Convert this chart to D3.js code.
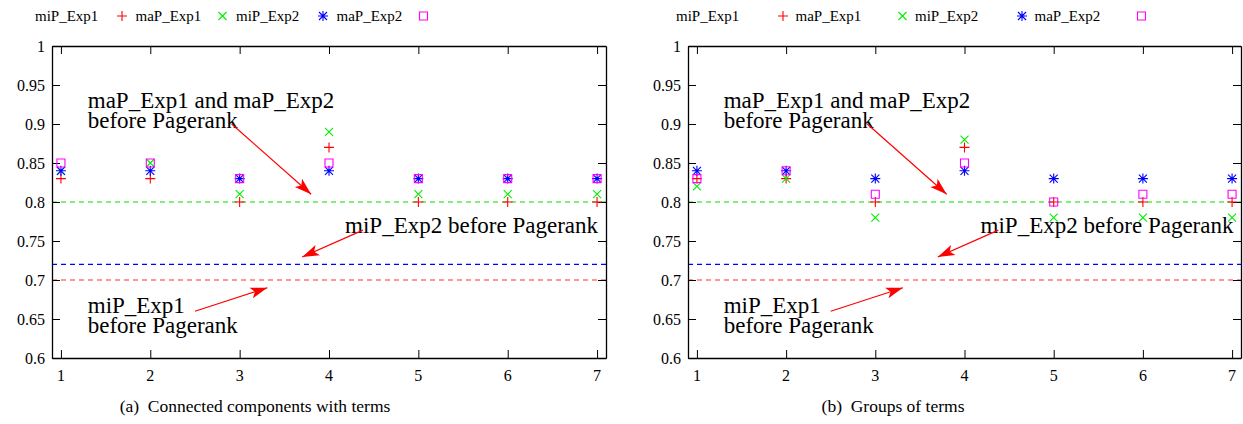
<!DOCTYPE html>
<html>
<head>
<meta charset="utf-8">
<script src="https://cdn.jsdelivr.net/npm/d3@7"></script>
</head>
<body style="margin:0">
<svg width="1243" height="424" font-family="Liberation Serif"></svg>
<script>
// data
const xValues = [1, 2, 3, 4, 5, 6, 7];
const yTicks = [0.6, 0.65, 0.7, 0.75, 0.8, 0.85, 0.9, 0.95, 1];
const seriesNames = ['miP_Exp1', 'maP_Exp1', 'miP_Exp2', 'maP_Exp2'];

// (a) connected components with terms
const miP1_a = [0.83, 0.83, 0.80, 0.87, 0.80, 0.80, 0.80];
const maP1_a = [0.84, 0.85, 0.81, 0.89, 0.81, 0.81, 0.81];
const miP2_a = [0.84, 0.84, 0.83, 0.84, 0.83, 0.83, 0.83];
const maP2_a = [0.85, 0.85, 0.83, 0.85, 0.83, 0.83, 0.83];

// (b) groups of terms
const miP1_b = [0.83, 0.83, 0.80, 0.87, 0.80, 0.80, 0.80];
const maP1_b = [0.82, 0.83, 0.78, 0.88, 0.78, 0.78, 0.78];
const miP2_b = [0.84, 0.84, 0.83, 0.84, 0.83, 0.83, 0.83];
const maP2_b = [0.83, 0.84, 0.81, 0.85, 0.80, 0.81, 0.81];

// "before Pagerank" reference levels
const baselines = [0.80, 0.72, 0.70];

// annotation texts and arrows, in data units
const notes = [
  {lines: ['maP_Exp1 and maP_Exp2', 'before Pagerank'], x: 1.30, y: 0.9205},
  {lines: ['miP_Exp2 before Pagerank'], x: 4.18, y: 0.760},
  {lines: ['miP_Exp1', 'before Pagerank'], x: 1.30, y: 0.658}
];
const arrows = [
  {x1: 2.91, y1: 0.900, x2: 3.80, y2: 0.810},
  {x1: 4.38, y1: 0.764, x2: 3.70, y2: 0.7295},
  {x1: 2.50, y1: 0.660, x2: 3.31, y2: 0.690}
];

const colors = ['#ff0000', '#00ee00', '#0000ff', '#ff00ff'];
const baselineColors = ['#00dd00', '#0000ff', '#ff3030'];

const symbolPaths = [
  'M-5,0H5M0,-5V5',
  'M-4,-4L4,4M-4,4L4,-4',
  'M-5,0H5M0,-5V5M-4,-4L4,4M-4,4L4,-4',
  'M-4,-4H4V4H-4Z'
];

const FONT = '"Liberation Serif"';
const svg = d3.select('svg');

svg.append('defs').append('marker')
    .attr('id', 'head')
    .attr('markerUnits', 'userSpaceOnUse')
    .attr('viewBox', '-18 -6 20 12')
    .attr('markerWidth', 20)
    .attr('markerHeight', 12)
    .attr('refX', 0)
    .attr('refY', 0)
    .attr('orient', 'auto')
    .append('path')
    .attr('d', 'M0,0L-17,-5.5L-13,0L-17,5.5Z')
    .attr('fill', '#ff0000');

// text set at double size and scaled down, so the serif face is picked
function label(parent, x, y, size, str) {
  return parent.append('text')
      .attr('transform', `translate(${x}, ${y}) scale(0.5)`)
      .attr('font-size', size * 2)
      .style('font-family', FONT)
      .text(str);
}

function drawPanel(opts) {
  const x = d3.scaleLinear().domain([0.9, 7.1]).range([opts.left, opts.right]);
  const y = d3.scaleLinear().domain([0.6, 1]).range([358, 46]);
  const g = svg.append('g');

  // reference levels
  baselines.forEach((v, i) => {
    g.append('line')
        .attr('x1', x(0.9)).attr('x2', x(7.1))
        .attr('y1', y(v)).attr('y2', y(v))
        .attr('stroke', baselineColors[i])
        .attr('stroke-width', 1.2)
        .attr('stroke-dasharray', '5,4');
  });

  // axes with inward ticks, mirrored; labels drawn as own text below
  g.append('g')
      .attr('transform', `translate(0, ${y(0.6)})`)
      .call(d3.axisBottom(x).tickValues(xValues).tickFormat('')
          .tickSizeInner(-8).tickSizeOuter(0));
  g.append('g')
      .attr('transform', `translate(0, ${y(1)})`)
      .call(d3.axisTop(x).tickValues(xValues).tickSizeInner(-8).tickSizeOuter(0).tickFormat(''));
  g.append('g')
      .attr('transform', `translate(${x(0.9)}, 0)`)
      .call(d3.axisLeft(y).tickValues(yTicks).tickFormat('')
          .tickSizeInner(-8).tickSizeOuter(0));
  g.append('g')
      .attr('transform', `translate(${x(7.1)}, 0)`)
      .call(d3.axisRight(y).tickValues(yTicks).tickSizeInner(-8).tickSizeOuter(0).tickFormat(''));
  g.selectAll('.domain').attr('stroke', '#000').attr('stroke-width', 1.3);
  g.selectAll('.tick line').attr('stroke', '#000');
  g.selectAll('.tick text').remove();

  const fmt = d => d === 1 ? '1' : String(+d.toFixed(2));
  xValues.forEach(v => {
    label(g, x(v), y(0.6) + 23, 16, String(v)).attr('text-anchor', 'middle');
  });
  yTicks.forEach(v => {
    label(g, x(0.9) - 7, y(v) + 5.5, 16, fmt(v)).attr('text-anchor', 'end');
  });

  // points
  opts.series.forEach((vals, i) => {
    g.selectAll(null)
        .data(vals)
        .join('path')
        .attr('transform', (d, j) => `translate(${x(xValues[j])}, ${y(d)})`)
        .attr('d', symbolPaths[i])
        .attr('fill', 'none')
        .attr('stroke', colors[i])
        .attr('stroke-width', 1.1);
  });

  // annotations
  notes.forEach(n => {
    n.lines.forEach((l, k) => {
      label(g, x(n.x), y(n.y) + k * 20, 23, l);
    });
  });
  arrows.forEach(a => {
    g.append('line')
        .attr('x1', x(a.x1)).attr('y1', y(a.y1))
        .attr('x2', x(a.x2)).attr('y2', y(a.y2))
        .attr('stroke', '#ff0000')
        .attr('stroke-width', 1.2)
        .attr('marker-end', 'url(#head)');
  });

  // key along the top
  seriesNames.forEach((name, i) => {
    const tx = opts.keyStart + i * opts.keyStep;
    label(svg, tx, 21, 15, name);
    svg.append('path')
        .attr('transform', `translate(${tx + opts.keyGap}, 16)`)
        .attr('d', symbolPaths[i])
        .attr('fill', 'none')
        .attr('stroke', colors[i])
        .attr('stroke-width', 1.1);
  });

  // caption
  label(svg, opts.captionX, 412, 17.5, opts.caption)
      .attr('text-anchor', 'middle')
      .style('white-space', 'pre');
}

drawPanel({
  left: 52, right: 606,
  series: [miP1_a, maP1_a, miP2_a, maP2_a],
  keyStart: 35, keyStep: 100.5, keyGap: 87,
  caption: '(a)  Connected components with terms', captionX: 255
});

drawPanel({
  left: 688, right: 1241,
  series: [miP1_b, maP1_b, miP2_b, maP2_b],
  keyStart: 676, keyStep: 119.5, keyGap: 107,
  caption: '(b)  Groups of terms', captionX: 893
});
</script>
</body>
</html>
